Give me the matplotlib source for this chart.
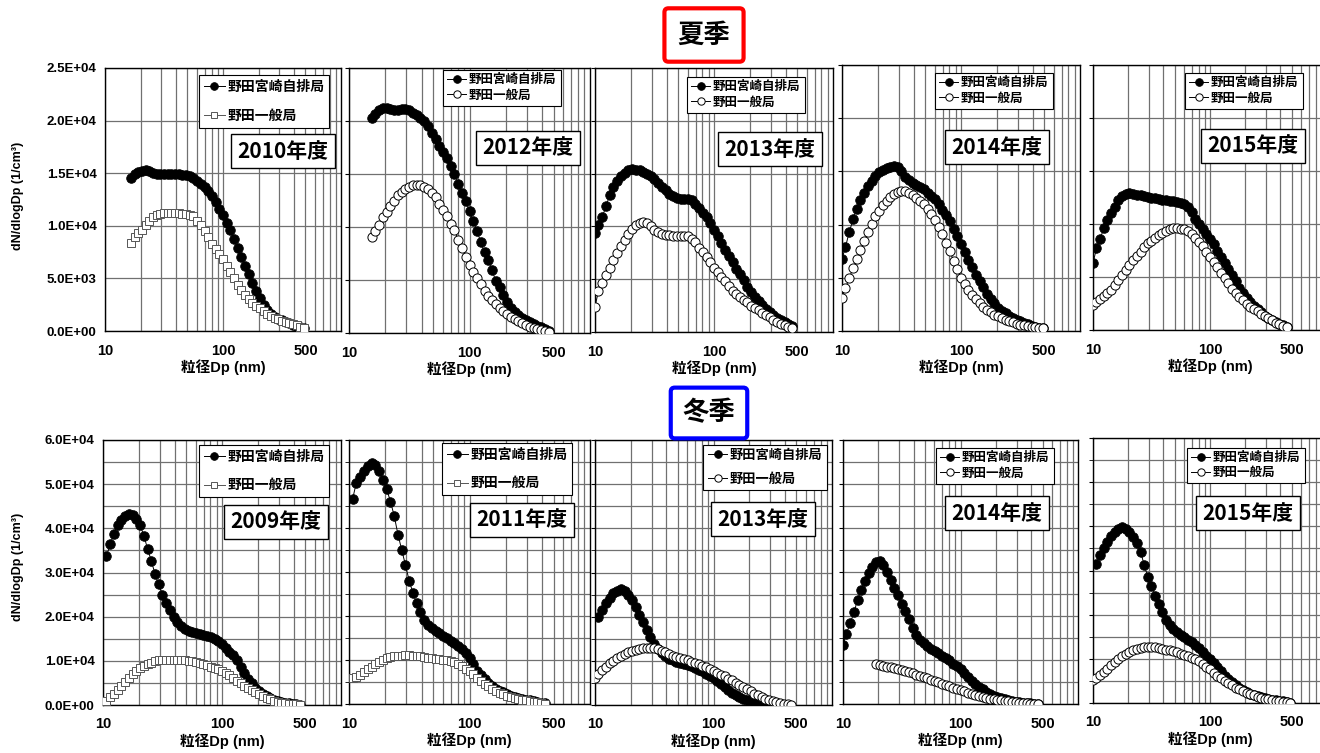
import matplotlib
matplotlib.use('Agg')
import matplotlib.pyplot as plt
from matplotlib.ticker import FixedLocator, NullFormatter

plt.rcParams['font.family'] = ['Liberation Sans', 'Noto Sans CJK JP']
plt.rcParams['font.weight'] = 'bold'
plt.rcParams['axes.labelweight'] = 'bold'

## SMPS channel midpoints (nm), 32 channels per decade
dp_nm = [10.0, 10.7, 11.5, 12.4, 13.3, 14.3, 15.4, 16.5, 17.8, 19.1, 20.5, 22.1,
         23.7, 25.5, 27.4, 29.4, 31.6, 34.0, 36.5, 39.2, 42.2, 45.3, 48.7, 52.3,
         56.2, 60.4, 64.9, 69.8, 75.0, 80.6, 86.6, 93.1, 100.0, 107.5, 115.5,
         124.1, 133.4, 143.3, 154.0, 165.5, 177.8, 191.1, 205.4, 220.7, 237.1,
         254.8, 273.8, 294.2, 316.2, 339.8, 365.2, 392.4, 421.7, 453.2, 487.0, 523.3]

## dN/dlogDp in 1E+03 /cm3, each list starts at the channel index given next to it
# summer
s2010_jihai = [14.5, 14.9, 15.1, 15.25, 15.3, 15.2, 15.05, 14.95, 14.9, 14.9, 14.9, 14.9,
               14.9, 14.9, 14.85, 14.8, 14.7, 14.5, 14.3, 14.0, 13.7, 13.3, 12.8, 12.3,
               11.6, 11.0, 10.3, 9.6, 8.7, 7.9, 7.0, 6.2, 5.4, 4.6, 3.8, 3.1, 2.5, 2.0,
               1.65, 1.35, 1.15, 1.0, 0.85, 0.72, 0.6, 0.48, 0.38, 0.3]
s2010_ippan = [8.4, 8.9, 9.3, 9.6, 10.1, 10.5, 10.8, 11.0, 11.15, 11.2, 11.25, 11.25,
               11.25, 11.2, 11.15, 11.1, 11.0, 10.9, 10.5, 10.1, 9.5, 8.9, 8.3, 7.8,
               7.3, 6.8, 6.2, 5.6, 5.0, 4.4, 3.9, 3.4, 3.0, 2.7, 2.4, 2.15, 1.9, 1.65,
               1.45, 1.25, 1.1, 0.95, 0.85, 0.75, 0.65, 0.55, 0.42, 0.3]
s2012_jihai = [20.3, 20.7, 21.0, 21.2, 21.2, 21.1, 21.0, 21.05, 21.1, 21.1, 21.0, 20.8,
               20.6, 20.3, 20.0, 19.5, 18.9, 18.3, 17.6, 17.1, 16.5, 15.8, 15.0, 14.1,
               13.2, 12.5, 11.5, 10.6, 9.6, 8.6, 7.6, 6.9, 5.9, 4.9, 4.3, 3.6, 2.9,
               2.4, 2.0, 1.7, 1.45, 1.25, 1.05, 0.85, 0.7, 0.55, 0.35, 0.15]
s2012_ippan = [9.1, 9.6, 10.2, 10.9, 11.4, 12.0, 12.5, 13.0, 13.3, 13.6, 13.8, 13.95,
               14.0, 13.95, 13.8, 13.6, 13.2, 12.8, 12.2, 11.6, 11.0, 10.3, 9.7, 8.8,
               8.0, 7.2, 6.4, 5.8, 5.2, 4.6, 4.0, 3.5, 3.1, 2.75, 2.4, 2.05, 1.8, 1.55,
               1.3, 1.1, 0.9, 0.75, 0.6, 0.5, 0.4, 0.3, 0.2, 0.12]
s2013_jihai = [9.4, 10.1, 10.9, 11.9, 13.0, 13.7, 14.3, 14.8, 15.1, 15.35, 15.4, 15.35,
               15.3, 15.15, 15.0, 14.8, 14.5, 14.1, 13.7, 13.4, 13.1, 12.85, 12.65,
               12.55, 12.55, 12.6, 12.5, 12.15, 11.7, 11.3, 10.9, 10.3, 9.7, 9.1, 8.45,
               7.8, 7.15, 6.6, 6.0, 5.5, 4.9, 4.3, 3.8, 3.3, 2.95, 2.6, 2.2, 1.9, 1.6,
               1.35, 1.15, 0.95, 0.75, 0.55]
s2013_ippan = [2.4, 3.9, 4.6, 5.4, 6.1, 6.8, 7.5, 8.1, 8.7, 9.3, 9.75, 10.1, 10.35, 10.4,
               10.3, 10.0, 9.7, 9.5, 9.3, 9.2, 9.15, 9.1, 9.1, 9.1, 9.1, 9.05, 8.8, 8.5,
               8.0, 7.6, 7.1, 6.6, 6.1, 5.7, 5.25, 4.8, 4.4, 3.9, 3.6, 3.3, 3.05, 2.8,
               2.5, 2.25, 2.05, 1.8, 1.6, 1.4, 1.15, 0.95, 0.8, 0.65, 0.5, 0.35]
s2014_jihai = [6.8, 7.9, 9.3, 10.5, 11.5, 12.3, 13.0, 13.6, 14.1, 14.6, 14.9, 15.1, 15.3,
               15.45, 15.5, 15.4, 15.0, 14.5, 14.2, 13.9, 13.7, 13.5, 13.3, 13.0, 12.7,
               12.4, 11.9, 11.4, 10.9, 10.3, 9.6, 8.9, 8.2, 7.4, 6.7, 6.0, 5.3, 4.7,
               4.1, 3.5, 3.0, 2.6, 2.2, 1.9, 1.65, 1.4, 1.2, 1.05, 0.9, 0.75, 0.62,
               0.5, 0.4, 0.32, 0.25]
s2014_ippan = [3.1, 4.0, 5.0, 5.9, 6.8, 7.6, 8.5, 9.3, 10.1, 10.8, 11.3, 11.8, 12.2,
               12.6, 12.9, 13.1, 13.2, 13.2, 13.0, 12.8, 12.5, 12.2, 11.9, 11.5, 11.0,
               10.4, 9.8, 9.1, 8.3, 7.5, 6.6, 5.8, 5.0, 4.4, 3.9, 3.4, 3.0, 2.6, 2.3,
               2.0, 1.75, 1.55, 1.4, 1.2, 1.05, 0.92, 0.8, 0.7, 0.6, 0.52, 0.45, 0.4,
               0.35, 0.3, 0.25]
s2015_jihai = [6.3, 7.7, 8.6, 9.6, 10.4, 11.0, 11.6, 12.3, 12.6, 12.85, 12.95, 12.85,
               12.75, 12.7, 12.6, 12.55, 12.5, 12.45, 12.4, 12.3, 12.25, 12.2, 12.15,
               12.05, 11.95, 11.85, 11.6, 11.1, 10.5, 10.0, 9.5, 9.05, 8.6, 8.1, 7.5,
               6.9, 6.3, 5.8, 5.2, 4.6, 4.0, 3.5, 3.0, 2.6, 2.3, 2.0, 1.7, 1.35, 1.1,
               0.9, 0.75, 0.6, 0.45, 0.32]
s2015_ippan = [2.4, 2.6, 2.9, 3.2, 3.5, 3.8, 4.2, 4.7, 5.2, 5.7, 6.1, 6.6, 7.0, 7.4, 7.8,
               8.2, 8.4, 8.7, 8.95, 9.15, 9.35, 9.5, 9.6, 9.6, 9.55, 9.5, 9.3, 9.1, 8.7,
               8.3, 7.9, 7.4, 6.9, 6.4, 5.9, 5.4, 4.9, 4.4, 3.9, 3.5, 3.1, 2.8, 2.5,
               2.2, 1.95, 1.75, 1.55, 1.3, 1.1, 0.9, 0.7, 0.55, 0.42, 0.3]
# winter
w2009_jihai = [33.7, 36.4, 38.8, 40.8, 42.0, 42.8, 43.2, 43.0, 42.2, 40.7, 38.3, 35.3,
               32.6, 29.6, 27.3, 25.0, 23.1, 21.4, 19.9, 18.7, 17.8, 17.2, 16.8, 16.45,
               16.2, 16.0, 15.8, 15.55, 15.3, 15.0, 14.4, 13.8, 13.0, 12.1, 11.3, 10.1,
               8.7, 7.3, 6.0, 4.9, 3.9, 3.2, 2.6, 2.0, 1.5, 1.15, 0.9, 0.7, 0.55, 0.42,
               0.3, 0.2, 0.1]
w2009_ippan = [1.0, 1.8, 2.6, 3.4, 4.3, 5.2, 6.1, 7.0, 7.6, 8.4, 8.9, 9.3, 9.6, 9.9,
               10.1, 10.25, 10.3, 10.3, 10.3, 10.25, 10.2, 10.1, 10.0, 9.85, 9.7, 9.5,
               9.3, 9.0, 8.7, 8.4, 8.1, 7.7, 7.2, 6.7, 6.1, 5.5, 5.0, 4.4, 3.9, 3.4,
               2.9, 2.4, 2.0, 1.6, 1.25, 0.95, 0.75, 0.55, 0.4, 0.3, 0.2, 0.12, 0.05]
w2011_jihai = [46.5, 50.3, 51.5, 53.0, 54.2, 54.7, 54.3, 53.0, 51.0, 48.9, 46.0, 42.8,
               38.5, 35.0, 31.6, 28.0, 25.2, 22.9, 20.9, 19.0, 18.0, 17.2, 16.6, 16.1,
               15.5, 14.9, 14.4, 13.8, 13.2, 12.5, 11.6, 10.5, 9.1, 7.6, 6.5, 5.6, 4.8,
               4.1, 3.5, 3.0, 2.7, 2.3, 1.9, 1.7, 1.45, 1.2, 1.0, 0.8, 0.6, 0.45, 0.3,
               0.15]
w2011_ippan = [5.8, 6.2, 6.6, 7.2, 7.9, 8.5, 9.1, 9.6, 10.1, 10.4, 10.6, 10.8, 10.9,
               11.0, 11.1, 11.1, 11.0, 10.9, 10.8, 10.7, 10.55, 10.4, 10.3, 10.2, 10.1,
               10.0, 9.8, 9.5, 9.1, 8.6, 8.0, 7.4, 6.8, 6.0, 5.3, 4.6, 4.0, 3.5, 3.0,
               2.6, 2.2, 1.9, 1.6, 1.35, 1.15, 0.95, 0.8, 0.65, 0.5, 0.35, 0.2, 0.1]
w2013_jihai = [20.0, 21.6, 23.0, 24.3, 25.3, 25.9, 26.2, 25.8, 24.8, 23.7, 22.1, 20.4,
               18.7, 17.0, 15.3, 13.8, 12.6, 11.7, 11.0, 10.5, 10.1, 9.8, 9.5, 9.3, 9.0,
               8.75, 8.4, 8.0, 7.6, 7.1, 6.6, 6.1, 5.5, 4.8, 4.1, 3.4, 2.8, 2.3, 1.8,
               1.45, 1.15, 0.9, 0.75, 0.6, 0.45, 0.35, 0.25, 0.18, 0.12, 0.07, 0.03]
w2013_ippan = [6.2, 7.0, 7.9, 8.7, 9.4, 10.0, 10.6, 11.1, 11.6, 12.0, 12.3, 12.5, 12.65,
               12.8, 12.85, 12.85, 12.8, 12.6, 12.3, 11.9, 11.5, 11.2, 10.9, 10.6, 10.4,
               10.1, 9.8, 9.5, 9.2, 8.9, 8.5, 8.2, 7.8, 7.3, 6.9, 6.5, 6.0, 5.6, 5.0,
               4.5, 4.0, 3.6, 3.1, 2.6, 2.2, 1.8, 1.45, 1.15, 0.85, 0.6, 0.4, 0.25,
               0.12, 0.05]
w2014_jihai = [13.5, 16.0, 18.3, 20.8, 23.7, 26.0, 28.0, 29.7, 31.1, 32.2, 32.5, 31.6,
               29.9, 28.1, 26.3, 24.8, 22.8, 21.2, 19.3, 17.2, 15.6, 14.6, 13.8, 13.2,
               12.6, 12.1, 11.6, 11.0, 10.5, 9.9, 9.2, 8.6, 7.9, 7.1, 6.2, 5.3, 4.6,
               3.9, 3.3, 2.8, 2.3, 1.9, 1.6, 1.35, 1.1, 0.9, 0.72, 0.55, 0.42, 0.3, 0.2,
               0.12, 0.06, 0.02]
w2014_ippan = [9.0, 8.8, 8.65, 8.5, 8.35, 8.2, 8.0, 7.8, 7.5, 7.25, 7.0, 6.7, 6.4, 6.1,
               5.8, 5.5, 5.2, 4.9, 4.6, 4.3, 4.0, 3.75, 3.45, 3.2, 2.9, 2.6, 2.35, 2.1,
               1.85, 1.6, 1.4, 1.25, 1.1, 0.95, 0.8, 0.7, 0.6, 0.5, 0.4, 0.3, 0.22,
               0.15, 0.1, 0.05, 0.02]
w2015_jihai = [31.5, 33.6, 35.0, 36.5, 37.7, 38.8, 39.5, 39.9, 39.5, 38.7, 37.6, 36.3,
               34.3, 31.2, 28.6, 26.6, 24.3, 22.5, 20.5, 18.9, 17.6, 16.7, 16.0, 15.5,
               14.9, 14.3, 13.7, 13.1, 12.5, 11.6, 10.7, 9.9, 9.1, 8.2, 7.2, 6.2, 5.5,
               4.8, 4.1, 3.5, 3.0, 2.5, 2.1, 1.8, 1.55, 1.3, 1.1, 0.9, 0.75, 0.6, 0.48,
               0.38, 0.25, 0.1]
w2015_ippan = [5.1, 5.6, 6.3, 7.0, 7.7, 8.5, 9.3, 10.0, 10.6, 11.1, 11.5, 11.9, 12.2,
               12.45, 12.6, 12.65, 12.7, 12.6, 12.45, 12.3, 12.1, 11.9, 11.7, 11.45,
               11.2, 10.9, 10.6, 10.3, 9.9, 9.4, 8.8, 8.2, 7.6, 6.9, 6.2, 5.6, 5.0, 4.5,
               4.0, 3.5, 3.1, 2.7, 2.3, 2.0, 1.7, 1.45, 1.2, 1.0, 0.8, 0.65, 0.5, 0.38,
               0.26, 0.15, 0.05]

years = ['2010年度', '2012年度', '2013年度', '2014年度', '2015年度',
         '2009年度', '2011年度', '2013年度', '2014年度', '2015年度']
jihai = [(s2010_jihai, 7), (s2012_jihai, 6), (s2013_jihai, 0), (s2014_jihai, 0), (s2015_jihai, 0),
         (w2009_jihai, 1), (w2011_jihai, 1), (w2013_jihai, 1), (w2014_jihai, 0), (w2015_jihai, 1)]
ippan = [(s2010_ippan, 7), (s2012_ippan, 6), (s2013_ippan, 0), (s2014_ippan, 0), (s2015_ippan, 0),
         (w2009_ippan, 1), (w2011_ippan, 1), (w2013_ippan, 0), (w2014_ippan, 9), (w2015_ippan, 0)]
ippan_marker = ['s', 'o', 'o', 'o', 'o', 's', 's', 'o', 'o', 'o']

## layout in pixels
W, H = 1320, 753
ax_box = [(105, 68, 341, 331), (349, 68, 590, 333), (595, 68, 833, 332),
          (842, 65, 1080, 331), (1093, 65, 1327, 330),
          (103, 440, 341, 705), (349, 440, 590, 704), (595, 440, 832, 705),
          (843, 440, 1078, 704), (1093, 438, 1327, 703)]
# legend top-left, row spacing, font size
leg_pos = [(199, 75, 1.1, 10), (443, 70, 0.25, 9), (687, 77, 0.25, 9), (935, 73, 0.25, 9),
           (1185, 73, 0.25, 9), (199, 445, 1.05, 10), (442, 443, 1.05, 10), (703, 445, 0.85, 9.5),
           (936, 448, 0.25, 9), (1187, 448, 0.2, 9)]
year_pos = [(283, 151), (528, 148), (770, 149), (997, 147), (1253, 146),
            (276, 522), (522, 520), (763, 519), (997, 513), (1248, 513)]

fig = plt.figure(figsize=(W / 100, H / 100), dpi=100)
grid_x = [m * 10 ** e for e in (1, 2) for m in range(1, 10)]

for k in range(10):
    l, t, r, b = ax_box[k]
    ax = fig.add_axes([l / W, 1 - b / H, (r - l) / W, (b - t) / H])
    top_row = k < 5

    vals, i0 = jihai[k]
    ax.plot(dp_nm[i0:i0 + len(vals)], [v * 1000 for v in vals], '-', color='k', lw=0.7,
            marker='o', ms=6.9, mfc='k', mec='k', mew=0.6, label='野田宮崎自排局', zorder=3)
    vals, i0 = ippan[k]
    ec = '#555555' if ippan_marker[k] == 's' else 'k'
    ax.plot(dp_nm[i0:i0 + len(vals)], [v * 1000 for v in vals], '-', color=ec, lw=0.7,
            marker=ippan_marker[k], ms=6.6 if ippan_marker[k] == 'o' else 5.8,
            mfc='white', mec=ec, mew=0.7, label='野田一般局', zorder=4)

    ax.set_xscale('log')
    ax.set_xlim(10, 1000)
    ax.set_xticks([10, 100, 500])
    ax.set_xticklabels(['10', '100', '500'], fontsize=10.5)
    ax.xaxis.set_minor_locator(FixedLocator(grid_x))
    ax.xaxis.set_minor_formatter(NullFormatter())
    ax.xaxis.remove_overlapping_locs = False
    ax.grid(axis='x', which='minor', color='#707070', lw=0.9)
    ax.tick_params(axis='x', which='both', length=0, pad=9)
    ax.set_xlabel('粒径Dp (nm)', fontsize=10.5, fontweight='bold', labelpad=1)

    if top_row:
        ax.set_ylim(0, 25000)
        ax.set_yticks(range(0, 25001, 5000))
    else:
        ax.set_ylim(0, 60000)
        ax.set_yticks(range(0, 60001, 10000))
        ax.set_yticks(range(0, 60001, 5000), minor=True)
    ax.grid(axis='y', which='both', color='#707070', lw=0.9)
    if k in (0, 5):
        ax.set_yticklabels(['{:.1E}'.format(v) for v in ax.get_yticks()], fontsize=9.5)
        ax.tick_params(axis='y', which='both', length=0, pad=6)
    else:
        ax.tick_params(axis='y', which='both', length=3, labelleft=False)
    ax.set_axisbelow(True)
    for s in ax.spines.values():
        s.set_linewidth(1.0)
        s.set_color('black')

    lx, ly, sp, fs = leg_pos[k]
    leg = ax.legend(loc='upper left', bbox_to_anchor=(lx / W, 1 - ly / H),
                    bbox_transform=fig.transFigure, fancybox=False, framealpha=1,
                    edgecolor='black', fontsize=fs, labelspacing=sp, borderpad=0.35,
                    handlelength=1.5, handletextpad=0.2, borderaxespad=0, markerscale=0.8)
    leg.get_frame().set_linewidth(0.8)

    cx, cy = year_pos[k]
    fig.text(cx / W, 1 - cy / H, years[k], ha='center', va='center', fontsize=15,
             family=['Noto Sans CJK JP'],
             bbox=dict(boxstyle='square,pad=0.3', fc='white', ec='black', lw=1.0))

## axis titles and season boxes
for yc in (196, 567):
    fig.text(18 / W, 1 - yc / H, 'dN/dlogDp (1/cm³)', rotation=90, ha='center',
             va='center', fontsize=9)
fig.text(704 / W, 1 - 35 / H, '夏季', ha='center', va='center', fontsize=19,
         family=['Noto Sans CJK JP'],
         bbox=dict(boxstyle='round,pad=0.5,rounding_size=0.15', fc='white', ec='#ff0000', lw=3))
fig.text(709 / W, 1 - 413 / H, '冬季', ha='center', va='center', fontsize=19,
         family=['Noto Sans CJK JP'],
         bbox=dict(boxstyle='round,pad=0.45,rounding_size=0.15', fc='white', ec='#0000ff', lw=3))

fig.savefig('out.png', dpi=100)
